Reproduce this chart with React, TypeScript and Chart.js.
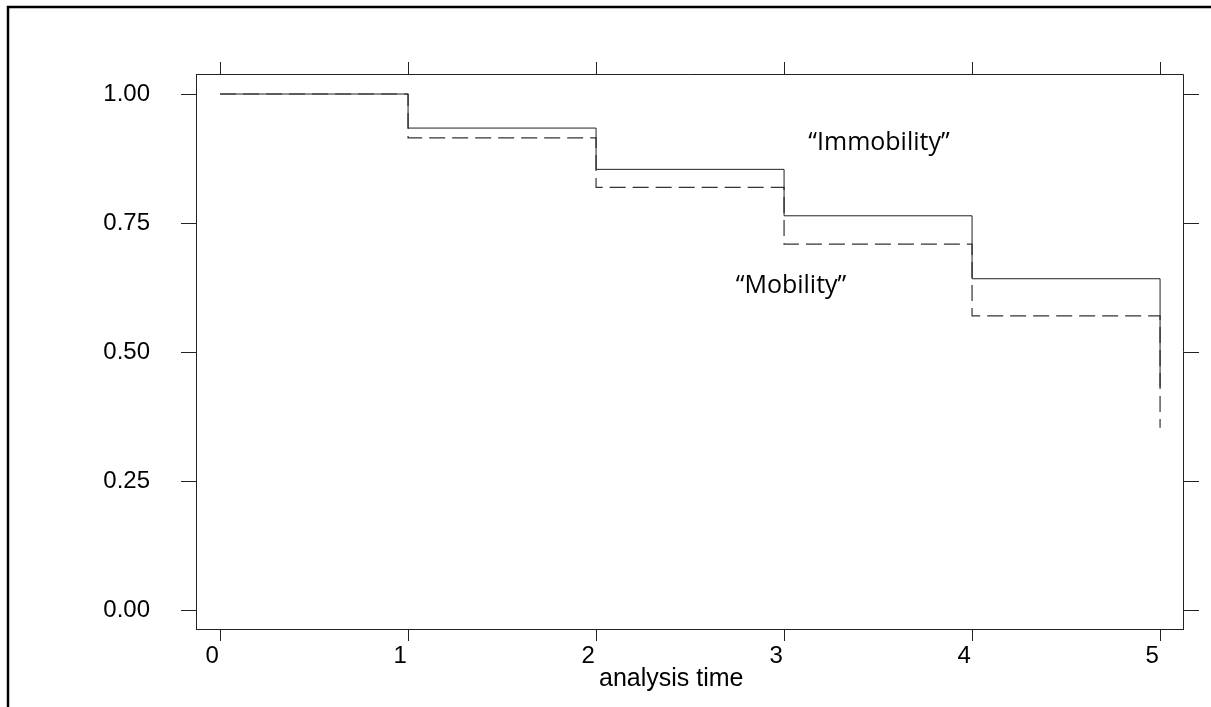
import React, { useEffect, useRef } from "react";
import { Chart, registerables } from "chart.js";

Chart.register(...registerables);

// Kaplan–Meier survival estimates by group
const times = [0, 1, 2, 3, 4, 5];
const immobility = [1.0, 0.934, 0.854, 0.764, 0.642, 0.432];
const mobility = [1.0, 0.915, 0.819, 0.709, 0.57, 0.353];

const xTicks = [0, 1, 2, 3, 4, 5];
const yTicks = [0, 0.25, 0.5, 0.75, 1];
const xTitle = "analysis time";

// in-plot curve labels, placed in data units
const curveLabels = [
  { text: "\u201cImmobility\u201d", x: 3.505, y: 0.905 },
  { text: "\u201cMobility\u201d", x: 3.037, y: 0.628 },
];

const AXIS_FONT = '"Liberation Sans", Arial, sans-serif';
const LABEL_FONT = '"Open Sans", "Liberation Sans", sans-serif';
const INK = "#222";

const framePlugin = {
  id: "frame",
  beforeDraw(chart: any) {
    const { ctx, width, height } = chart;
    ctx.save();
    ctx.fillStyle = "#fff";
    ctx.fillRect(0, 0, width, height);
    ctx.restore();
  },
  afterDraw(chart: any) {
    const { ctx, chartArea: a, scales, height, width } = chart;
    const xs = scales.x;
    const ys = scales.y;
    ctx.save();

    // outer frame (top and left edges)
    ctx.strokeStyle = "#000";
    ctx.lineWidth = 2.5;
    ctx.beginPath();
    ctx.moveTo(8, height);
    ctx.lineTo(8, 7);
    ctx.lineTo(width, 7);
    ctx.stroke();

    // top and right edges of the plot box with mirrored ticks
    ctx.strokeStyle = INK;
    ctx.lineWidth = 1;
    ctx.beginPath();
    ctx.moveTo(a.left, a.top + 0.5);
    ctx.lineTo(a.right + 0.5, a.top + 0.5);
    ctx.lineTo(a.right + 0.5, a.bottom);
    for (const v of xTicks) {
      const px = Math.round(xs.getPixelForValue(v)) + 0.5;
      ctx.moveTo(px, a.top);
      ctx.lineTo(px, a.top - 12);
    }
    for (const v of yTicks) {
      const py = Math.round(ys.getPixelForValue(v)) + 0.5;
      ctx.moveTo(a.right, py);
      ctx.lineTo(a.right + 16, py);
    }
    ctx.stroke();

    // x axis title
    ctx.fillStyle = "#000";
    ctx.font = `25px ${AXIS_FONT}`;
    ctx.textAlign = "center";
    ctx.textBaseline = "middle";
    ctx.fillText(xTitle, xs.getPixelForValue(2.4), 679);

    // curve labels
    ctx.font = `25px ${LABEL_FONT}`;
    for (const l of curveLabels) {
      ctx.fillText(l.text, xs.getPixelForValue(l.x), ys.getPixelForValue(l.y));
    }
    ctx.restore();
  },
};

export default function App() {
  const canvasRef = useRef<HTMLCanvasElement | null>(null);

  useEffect(() => {
    const canvas = canvasRef.current;
    if (!canvas) return;
    const chart = new Chart(canvas, {
      type: "line",
      data: {
        datasets: [
          {
            label: "Immobility",
            data: times.map((t, i) => ({ x: t, y: immobility[i] })),
            borderColor: INK,
            borderWidth: 1,
            stepped: "before",
            pointRadius: 0,
            fill: false,
          },
          {
            label: "Mobility",
            data: times.map((t, i) => ({ x: t, y: mobility[i] })),
            borderColor: "#333",
            borderWidth: 1.2,
            borderDash: [16, 7],
            stepped: "before",
            pointRadius: 0,
            fill: false,
          },
        ],
      },
      options: {
        responsive: false,
        devicePixelRatio: 1,
        animation: false,
        layout: { padding: { left: 0, right: 28, top: 74, bottom: 0 } },
        plugins: {
          legend: { display: false },
          tooltip: { enabled: false },
          title: { display: false },
        },
        scales: {
          x: {
            type: "linear",
            min: -0.128,
            max: 5.122,
            afterBuildTicks: (s: any) => {
              s.ticks = xTicks.map((v) => ({ value: v }));
            },
            afterFit: (s: any) => {
              s.height = 78;
            },
            grid: {
              drawOnChartArea: false,
              drawTicks: true,
              tickLength: 12,
              color: INK,
            },
            border: { display: true, color: INK, width: 1 },
            ticks: {
              color: "#000",
              font: { family: AXIS_FONT, size: 24 },
              padding: 1,
              labelOffset: -8,
              maxRotation: 0,
              callback: (v: any) => String(v),
            },
          },
          y: {
            type: "linear",
            min: -0.0368,
            max: 1.0388,
            afterBuildTicks: (s: any) => {
              s.ticks = yTicks.map((v) => ({ value: v }));
            },
            afterFit: (s: any) => {
              s.width = 196;
            },
            grid: {
              drawOnChartArea: false,
              drawTicks: true,
              tickLength: 15,
              color: INK,
            },
            border: { display: true, color: INK, width: 1 },
            ticks: {
              color: "#000",
              font: { family: AXIS_FONT, size: 24 },
              padding: 31,
              callback: (v: any) => Number(v).toFixed(2),
            },
          },
        },
      },
      plugins: [framePlugin],
    });
    return () => chart.destroy();
  }, []);

  return (
    <div style={{ position: "absolute", left: 0, top: 0, width: 1211, height: 707, background: "#fff" }}>
      <canvas ref={canvasRef} width={1211} height={707} style={{ display: "block" }} />
    </div>
  );
}
